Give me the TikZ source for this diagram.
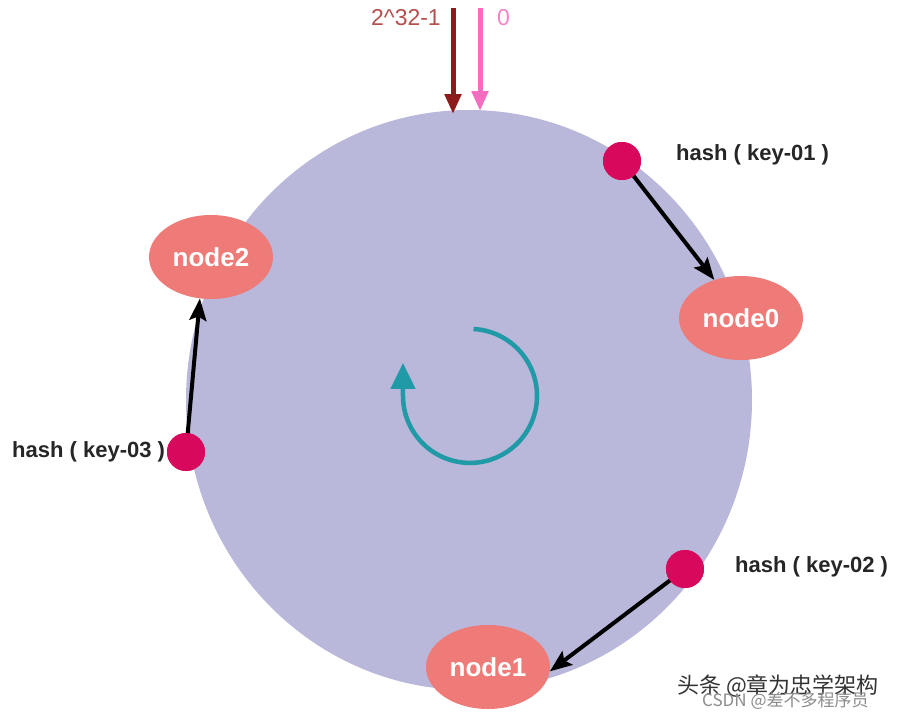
\documentclass[tikz,border=0pt]{standalone}
\usepackage{fontspec}
\setmainfont{Liberation Sans}
\newfontfamily\cjkfont{Noto Sans CJK SC}
\usetikzlibrary{shapes.geometric,arrows.meta}
\definecolor{ringfill}{HTML}{B9B7DA}
\definecolor{nodefill}{HTML}{EE7B78}
\definecolor{dotfill}{HTML}{D8085C}
\definecolor{teal}{HTML}{1F9AA6}
\definecolor{darkred}{HTML}{8E1B1B}
\definecolor{pinkarrow}{HTML}{F56CC0}
\definecolor{labelred}{HTML}{B5504F}
\tikzset{
  ringnode/.style={ellipse,fill=nodefill,draw=none,minimum width=124pt,minimum height=84pt,inner sep=0pt,
    text=white,font=\bfseries\fontsize{26}{30}\selectfont},
  keydot/.style={circle,fill=dotfill,draw=none,minimum size=38pt,inner sep=0pt},
  keylabel/.style={anchor=west,inner sep=0pt,font=\bfseries\fontsize{22}{26}\selectfont,text=black!85},
  keyarrow/.style={line width=4pt,black,-{Stealth[length=22pt,width=17pt,inset=4pt]},shorten <=-2pt},
  toparrow/.style={line width=5pt,-{Triangle[length=20pt,width=16pt]}},
}
\begin{document}
\begin{tikzpicture}[x=1pt,y=-1pt]
\useasboundingbox (0,0) rectangle (910,718);
\fill[white] (0,0) rectangle (910,718);
% ring
\fill[ringfill] (469,400) ellipse [x radius=283, y radius=290];
% top arrows
\coordinate (a1s) at (453,8);
\coordinate (a1e) at (453,114);
\coordinate (a2s) at (480,8);
\coordinate (a2e) at (480,111);
\draw[toparrow,darkred] (a1s) -- (a1e);
\draw[toparrow,pinkarrow] (a2s) -- (a2e);
\node[anchor=east,inner sep=0pt,text=labelred,font=\fontsize{23}{27}\selectfont] (lmax) at (441,18) {2\^{}32-1};
\node[anchor=west,inner sep=0pt,text=pinkarrow!85!white,font=\fontsize{23}{27}\selectfont] (lzero) at (497,18) {0};
% rotation arrow
\coordinate (rc) at (470,396);
\coordinate (rstart) at (473.5,329);
\draw[teal,line width=4.5pt,-{Triangle[length=26pt,width=24pt]}]
  (rstart) arc[start angle=-87,end angle=180,radius=67] -- ++(0,-33);
% nodes
\node[ringnode] (n0) at (741,318) {node0};
\node[ringnode] (n1) at (488,667) {node1};
\node[ringnode] (n2) at (211,257) {node2};
% key labels
\node[keylabel] (l1) at (676,155) {hash ( key-01 )};
\node[keylabel] (l2) at (735,567) {hash ( key-02 )};
\node[keylabel] (l3) at (12,452) {hash ( key-03 )};
% key dots
\node[keydot] (k1) at (622,161) {};
\node[keydot] (k2) at (685,569) {};
\node[keydot] (k3) at (186,452) {};
% arrows
\draw[keyarrow] (k1) -- (n0.125);
\draw[keyarrow] (k2) -- (n1.-4);
\draw[keyarrow] (k3) -- (n2.255);
\fill[dotfill] (k1) circle (19);
\fill[dotfill] (k2) circle (19);
\fill[dotfill] (k3) circle (19);
% watermark
\node[anchor=west,inner sep=0pt,text=black!80,font=\cjkfont\fontsize{22}{26}\selectfont] (wm1) at (677,686) {头条 @章为忠学架构};
\node[anchor=west,inner sep=0pt,text=black!45,font=\cjkfont\fontsize{17}{20}\selectfont] (wm2) at (702,701) {CSDN @差不多程序员};
\end{tikzpicture}
\end{document}
